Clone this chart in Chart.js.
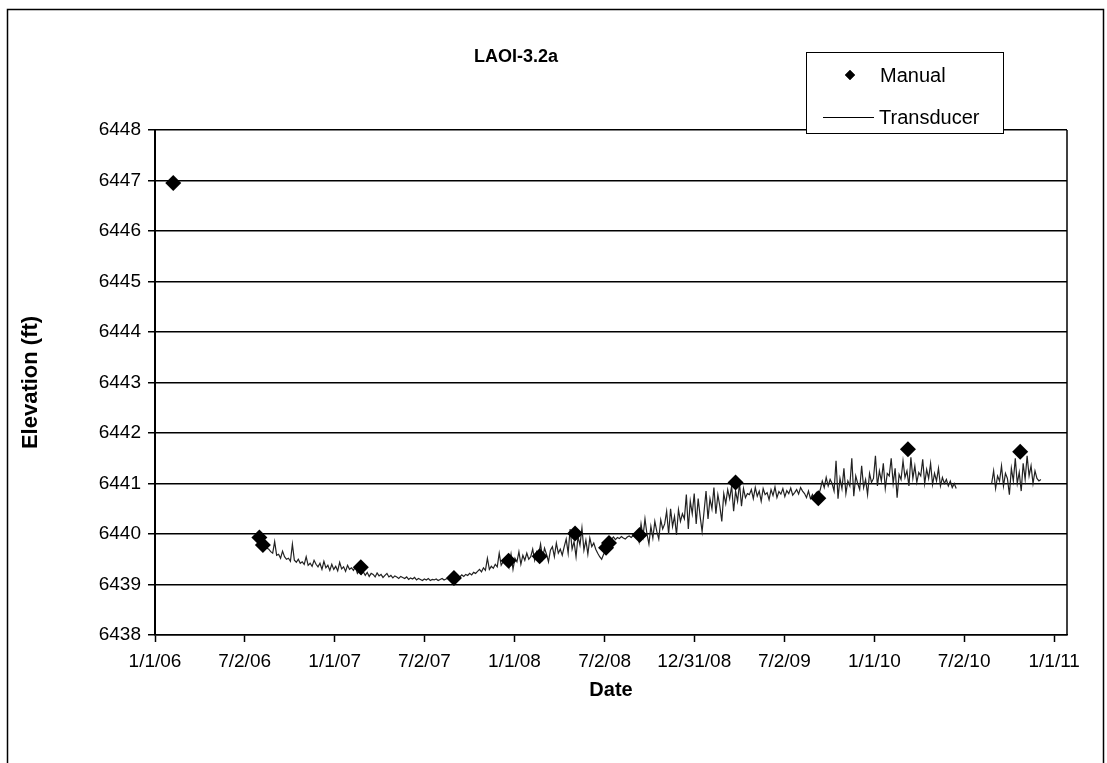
<!DOCTYPE html>
<html><head><meta charset="utf-8">
<script src="https://cdn.jsdelivr.net/npm/chart.js@4.4.0/dist/chart.umd.min.js"></script>
<style>html,body{margin:0;padding:0;background:#fff;overflow:hidden;}</style>
</head><body>
<canvas id="c" width="1107" height="763"></canvas>
<script>
// ---------------- data ----------------
const chartTitle = 'LAOI-3.2a';
const xAxisTitle = 'Date';
const yAxisTitle = 'Elevation (ft)';
const seriesNames = ['Manual', 'Transducer'];

const xTickLabels = ['1/1/06','7/2/06','1/1/07','7/2/07','1/1/08','7/2/08','12/31/08','7/2/09','1/1/10','7/2/10','1/1/11'];
const xTickDates  = ['2006-01-01','2006-07-02','2007-01-01','2007-07-02','2008-01-01','2008-07-02','2008-12-31','2009-07-02','2010-01-01','2010-07-02','2011-01-01'];
const xAxisStart = '2006-01-01';
const xAxisEnd   = '2011-01-27';
const yMin = 6438, yMax = 6448, yStep = 1;

const manualDates = ['2006-02-07','2006-08-01','2006-08-08','2007-02-23','2007-08-31','2007-12-20','2008-02-21','2008-05-03','2008-07-05','2008-07-11','2008-09-11','2009-03-25','2009-09-09','2010-03-10','2010-10-24'];
const manualValues = [6446.95,6439.93,6439.78,6439.34,6439.13,6439.47,6439.56,6440.01,6439.73,6439.82,6439.98,6441.02,6440.71,6441.68,6441.63];

const transducerIntervalDays = 4;
const transducerSeg1Start = '2006-07-31';
const transducerSeg1 = [
6439.95,6439.90,6439.82,6439.78,6439.72,6439.70,
6439.65,6439.62,6439.85,6439.58,6439.60,6439.52,6439.66,6439.55,
6439.50,6439.52,6439.46,6439.80,6439.48,6439.44,6439.50,6439.42,
6439.45,6439.40,6439.55,6439.38,6439.42,6439.36,6439.48,6439.40,
6439.35,6439.42,6439.30,6439.46,6439.33,6439.38,6439.28,6439.40,6439.30,6439.36,6439.27,6439.44,6439.31,6439.35,6439.26,6439.38,6439.30,6439.33,6439.28,6439.35,
6439.22,6439.28,6439.20,6439.25,6439.18,6439.24,6439.16,6439.22,6439.20,6439.15,6439.23,6439.17,6439.20,6439.14,6439.18,6439.22,6439.15,6439.18,6439.13,6439.17,6439.15,6439.12,6439.16,6439.14,
6439.12,6439.15,6439.10,6439.13,6439.11,6439.14,6439.09,6439.12,6439.10,6439.08,6439.11,6439.09,6439.12,6439.08,6439.10,6439.09,6439.11,6439.08,6439.10,6439.12,6439.09,6439.11,6439.12,
6439.14,6439.12,6439.16,6439.13,6439.17,6439.15,6439.19,6439.16,6439.20,6439.18,6439.22,6439.19,6439.24,6439.22,
6439.26,6439.30,6439.25,6439.33,6439.28,6439.52,6439.30,6439.36,6439.32,6439.40,6439.35,6439.62,6439.38,6439.45,
6439.42,6439.55,6439.35,6439.60,6439.30,6439.52,6439.45,6439.65,6439.40,6439.58,6439.48,6439.62,6439.50,
6439.55,6439.70,6439.48,6439.65,6439.58,6439.80,6439.52,6439.72,6439.60,6439.45,6439.68,6439.75,6439.55,6439.82,6439.62,6439.70,6439.58,
6439.75,6439.90,6439.62,6440.10,6439.70,6439.85,6439.55,6439.95,6439.78,6440.12,6439.68,6439.88,6439.60,6439.92,6439.75,6439.82,6439.70,
6439.62,6439.55,6439.50,6439.60,6439.66,
6439.88,6439.92,6439.90,6439.94,6439.89,6439.93,6439.91,6439.95,6439.92,6439.90,6439.94,6439.96,6439.93,6439.97,6439.95,
6440.05,6439.85,6440.20,6439.95,6440.30,6440.00,6439.80,6440.15,6439.92,6440.25,6440.05,6439.90,6440.28,6440.10,
6440.20,6440.45,6440.00,6440.50,6440.15,6440.35,6439.98,6440.48,6440.25,6440.40,
6440.30,6440.78,6440.10,6440.65,6440.40,6440.80,6440.20,6440.70,6440.35,6440.05,
6440.45,6440.85,6440.30,6440.70,6440.50,6440.92,6440.40,6440.78,6440.55,6440.25,6440.80,6440.60,6440.88,
6440.70,6440.95,6440.45,6440.85,6440.65,6441.00,6440.55,6440.90,6440.72,6440.80,
6440.78,6440.88,6440.70,6440.92,6440.75,6440.85,6440.65,6440.90,6440.78,6440.82,6440.68,6440.88,6440.76,6440.93,6440.72,6440.84,6440.79,6440.90,6440.74,6440.86,6440.80,6440.91,6440.77,
6440.82,6440.88,6440.79,6440.92,6440.85,
6440.80,6440.72,6440.85,6440.70,6440.78,6440.68,6440.82,6440.76,6440.88,
6441.05,6440.92,6441.12,6440.95,6441.08,6441.00,
6440.85,6441.45,6440.70,6441.10,6440.90,6441.30,6440.80,6441.05,6440.95,6441.50,6440.75,6441.15,6441.00,6440.88,6441.35,6440.92,6441.08,6440.78,6441.20,6441.02,
6441.10,6441.55,6440.95,6441.25,6441.05,6441.40,6440.90,6441.20,6441.15,6441.50,6441.00,6441.30,6440.72,6441.18,6441.08,6441.45,6441.12,6441.25,6440.95,6441.52,6441.10,6441.35,6441.02,6441.22,6441.15,6441.48,6441.00,6441.28,6441.10,6441.40,6440.98,6441.20,6441.05,6441.30,6440.95,6441.12,6441.00,6441.08,6440.95,
6441.05,6440.92,6441.00,6440.90
];
const transducerSeg2Start = '2010-08-27';
const transducerSeg2 = [
6441.00,6441.25,6440.90,6441.15,6441.05,6441.35,6440.95,6441.20,6441.10,6440.78,6441.30,6441.05,6441.50,
6441.00,6441.22,6440.85,6441.40,6441.08,6441.55,6441.15,6441.35,6441.00,6441.25,6441.10,6441.05,6441.08
];

// ---------------- helpers ----------------
function dayOf(s) {
  const [y, m, d] = s.split('-').map(Number);
  const [y0, m0, d0] = xAxisStart.split('-').map(Number);
  return (Date.UTC(y, m - 1, d) - Date.UTC(y0, m0 - 1, d0)) / 86400000;
}
const xTickDays = xTickDates.map(dayOf);
const manualPoints = manualDates.map((d, i) => ({ x: dayOf(d), y: manualValues[i] }));
const seg1Start = dayOf(transducerSeg1Start);
const seg2Start = dayOf(transducerSeg2Start);
const transducerPoints = [];
transducerSeg1.forEach((v, i) => transducerPoints.push({ x: seg1Start + i * transducerIntervalDays, y: v }));
transducerPoints.push({ x: seg1Start + transducerSeg1.length * transducerIntervalDays, y: null });
transducerSeg2.forEach((v, i) => transducerPoints.push({ x: seg2Start + i * transducerIntervalDays, y: v }));

const FONT = "'Liberation Sans', Arial, sans-serif";

const framePlugin = {
  id: 'frame',
  beforeDraw(chart) {
    const ctx = chart.ctx;
    ctx.save();
    ctx.fillStyle = '#fff';
    ctx.fillRect(0, 0, chart.width, chart.height);
    ctx.strokeStyle = '#000';
    ctx.lineWidth = 1.5;
    ctx.strokeRect(7.5, 9.5, 1096, 800);
    ctx.restore();
  },
  afterDraw(chart) {
    const ctx = chart.ctx;
    const a = chart.chartArea;
    ctx.save();
    // right edge of plot area
    ctx.strokeStyle = '#000';
    ctx.lineWidth = 1.5;
    ctx.beginPath();
    ctx.moveTo(a.right, a.top);
    ctx.lineTo(a.right, a.bottom);
    ctx.stroke();
    // chart title
    ctx.fillStyle = '#000';
    ctx.font = "bold 18px " + FONT;
    ctx.textAlign = 'center';
    ctx.textBaseline = 'middle';
    ctx.fillText(chartTitle, 516, 57);
    // legend box
    ctx.fillStyle = '#fff';
    ctx.fillRect(806, 52, 197, 81);
    ctx.lineWidth = 1;
    ctx.strokeRect(806.5, 52.5, 197, 81);
    ctx.fillStyle = '#000';
    ctx.font = "20px " + FONT;
    ctx.textAlign = 'left';
    Chart.helpers.drawPoint(ctx, { pointStyle: 'rectRot', radius: 5, borderWidth: 0 }, 850, 75);
    ctx.fillStyle = '#000';
    ctx.fill();
    ctx.fillText(seriesNames[0], 880, 76);
    ctx.beginPath();
    ctx.moveTo(823, 117.5);
    ctx.lineTo(874, 117.5);
    ctx.strokeStyle = '#000';
    ctx.lineWidth = 1;
    ctx.stroke();
    ctx.fillText(seriesNames[1], 879, 118);
    ctx.restore();
  }
};

new Chart(document.getElementById('c'), {
  type: 'scatter',
  data: {
    datasets: [
      {
        label: seriesNames[0],
        data: manualPoints,
        pointStyle: 'rectRot',
        pointRadius: 8,
        pointBackgroundColor: '#000',
        pointBorderColor: '#000',
        pointBorderWidth: 0,
        showLine: false,
        order: 0
      },
      {
        label: seriesNames[1],
        data: transducerPoints,
        showLine: true,
        spanGaps: false,
        borderColor: '#222',
        borderWidth: 1.2,
        pointRadius: 0,
        tension: 0,
        order: 1
      }
    ]
  },
  options: {
    responsive: false,
    animation: false,
    devicePixelRatio: 1,
    layout: { padding: { left: 0, top: 130, right: 40, bottom: 0 } },
    plugins: { legend: { display: false }, title: { display: false }, tooltip: { enabled: false } },
    scales: {
      x: {
        type: 'linear',
        position: 'bottom',
        min: 0,
        max: dayOf(xAxisEnd),
        afterBuildTicks: s => { s.ticks = xTickDays.map(v => ({ value: v })); },
        afterFit: s => { s.height = 128; },
        ticks: {
          autoSkip: false, maxRotation: 0, minRotation: 0,
          callback: (v, i) => xTickLabels[i],
          font: { family: FONT, size: 19 }, color: '#000', padding: 8
        },
        grid: { drawOnChartArea: false, drawTicks: true, tickLength: 7, tickColor: '#000', tickWidth: 1.5 },
        border: { display: true, color: '#000', width: 1.5 },
        title: { display: true, text: xAxisTitle, color: '#000', font: { family: FONT, size: 20, weight: 'bold' }, padding: { top: 0, bottom: 61 } }
      },
      y: {
        min: yMin, max: yMax,
        afterFit: s => { s.width = 155; },
        ticks: { stepSize: yStep, callback: v => String(v), font: { family: FONT, size: 19 }, color: '#000', padding: 7 },
        grid: { color: '#000', lineWidth: 1.5, tickLength: 7, drawTicks: true },
        border: { display: true, color: '#000', width: 2 },
        title: { display: true, text: yAxisTitle, color: '#000', font: { family: FONT, size: 22, weight: 'bold' }, padding: { top: 18, bottom: 0 } }
      }
    }
  },
  plugins: [framePlugin]
});
</script>
</body></html>
